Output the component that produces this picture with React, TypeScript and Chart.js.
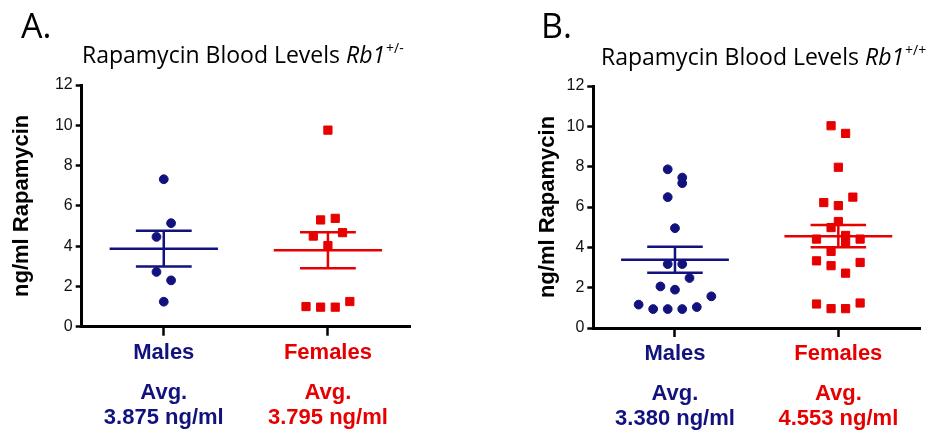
import React, { useEffect, useRef } from "react";
import { Chart, registerables } from "chart.js";

Chart.register(...registerables);

// ---------- data ----------
const categories = ["Males", "Females"];
const yTickValues = [0, 2, 4, 6, 8, 10, 12];

// Panel A: Rb1 +/-
const aMaleValues = [7.32, 5.14, 4.46, 2.72, 2.3, 1.24];
const aMaleSlots = [0, 1, -1, -1, 1, 0];
const aFemaleValues = [9.76, 5.3, 5.38, 4.5, 4.67, 4.03, 1.0, 0.97, 0.97, 1.25];
const aFemaleSlots = [0, -1, 1, -2, 2, 0, -3, -1, 1, 3];
const aAverages = [3.875, 3.795];
const aSems = [0.885, 0.89];

// Panel B: Rb1 +/+
const bMaleValues = [7.87, 7.46, 7.18, 6.49, 4.95, 3.17, 3.17, 2.48, 2.06, 1.9, 1.57, 1.16, 0.94, 0.94, 0.94, 1.04];
const bMaleSlots = [-1, 1, 1, -1, 0, -1, 1, 2, -2, 0, 5, -5, -3, -1, 1, 3];
const bFemaleValues = [10.03, 9.65, 7.97, 6.22, 6.49, 6.07, 5.28, 4.98, 4.59, 4.41, 4.41, 4.21, 3.8, 3.33, 3.09, 3.25, 2.72, 1.19, 0.96, 0.96, 1.24];
const bFemaleSlots = [-1, 1, 0, -2, 2, 0, 0, -1, 1, -3, 3, 1, -1, -3, -1, 3, 1, -3, -1, 1, 3];
const bAverages = [3.38, 4.553];
const bSems = [0.645, 0.555];

// ---------- styles ----------
const NAVY = "#12127e";
const RED = "#e60000";
const FAMILY = '"Liberation Sans", Arial, sans-serif';
const TITLE_FAMILY = '"Open Sans", "Noto Sans", sans-serif';
const JITTER = 0.0445;
const MEAN_HALF = 0.33;
const SEM_HALF = 0.17;
const W = 469;
const H = 435;

type PanelProps = {
  maleValues: number[];
  maleSlots: number[];
  femaleValues: number[];
  femaleSlots: number[];
  averages: number[];
  sems: number[];
  areaLeft: number;
  areaRight: number;
  areaTop: number;
  areaBottom: number;
  yTitleCenter: number;
};

function seg(x1: number, y1: number, x2: number, y2: number, color: string) {
  return {
    type: "scatter" as const,
    data: [
      { x: x1, y: y1 },
      { x: x2, y: y2 },
    ],
    showLine: true,
    borderColor: color,
    borderWidth: 2.5,
    pointRadius: 0,
    order: 0,
  };
}

function ChartPanel(p: PanelProps) {
  const ref = useRef<HTMLCanvasElement | null>(null);
  useEffect(() => {
    if (!ref.current) return;
    const colors = [NAVY, RED];
    const lines: any[] = [];
    p.averages.forEach((m, i) => {
      const c = i + 1;
      const s = p.sems[i];
      lines.push(seg(c - MEAN_HALF, m, c + MEAN_HALF, m, colors[i]));
      lines.push(seg(c - SEM_HALF, m + s, c + SEM_HALF, m + s, colors[i]));
      lines.push(seg(c - SEM_HALF, m - s, c + SEM_HALF, m - s, colors[i]));
      lines.push(seg(c, m - s, c, m + s, colors[i]));
    });
    const avgPlugin = {
      id: "avgText",
      afterDraw(chart: any) {
        const { ctx, chartArea, scales } = chart;
        ctx.save();
        ctx.font = `bold 22px ${FAMILY}`;
        ctx.textAlign = "center";
        ctx.textBaseline = "middle";
        p.averages.forEach((avg, i) => {
          const x = scales.x.getPixelForValue(i + 1);
          ctx.fillStyle = colors[i];
          ctx.fillText("Avg.", x, chartArea.bottom + 66);
          ctx.fillText(`${avg.toFixed(3)} ng/ml`, x, chartArea.bottom + 91);
        });
        ctx.restore();
      },
    };
    const titleFont = { family: FAMILY, size: 22, weight: "bold" as const, lineHeight: 1.2 };
    const chart = new Chart(ref.current, {
      type: "scatter",
      data: {
        datasets: [
          ...lines,
          {
            data: p.maleValues.map((v, i) => ({ x: 1 + p.maleSlots[i] * JITTER, y: v })),
            pointStyle: "circle",
            pointRadius: 4.4,
            pointBorderWidth: 1,
            backgroundColor: NAVY,
            borderColor: NAVY,
            order: 1,
          },
          {
            data: p.femaleValues.map((v, i) => ({ x: 2 + p.femaleSlots[i] * JITTER, y: v })),
            pointStyle: "rect",
            pointRadius: 5.8,
            pointBorderWidth: 1,
            backgroundColor: RED,
            borderColor: RED,
            order: 1,
          },
        ],
      },
      options: {
        animation: false,
        responsive: true,
        maintainAspectRatio: false,
        layout: { padding: { left: 0, right: W - p.areaRight, top: p.areaTop, bottom: 0 } },
        plugins: { legend: { display: false }, tooltip: { enabled: false } },
        events: [],
        scales: {
          x: {
            type: "linear",
            min: 0.5,
            max: 2.5,
            afterBuildTicks: (s: any) => {
              s.ticks = [{ value: 1 }, { value: 2 }];
            },
            afterFit: (s: any) => {
              s.height = H - p.areaBottom;
            },
            ticks: {
              autoSkip: false,
              maxRotation: 0,
              padding: 4,
              font: { family: FAMILY, size: 22, weight: "bold" },
              color: (ctx: any) => (ctx.index === 0 ? NAVY : RED),
              callback: (v: any) => categories[Math.round(Number(v)) - 1],
            },
            grid: {
              display: true,
              drawOnChartArea: false,
              drawTicks: true,
              tickLength: 9,
              tickWidth: 2.5,
              tickColor: "#000",
            },
            border: { display: true, color: "#000", width: 3 },
          },
          y: {
            type: "linear",
            min: 0,
            max: 12,
            afterBuildTicks: (s: any) => {
              s.ticks = yTickValues.map((v) => ({ value: v }));
            },
            afterFit: (s: any) => {
              s.width = p.areaLeft;
            },
            ticks: {
              padding: 3,
              font: { family: FAMILY, size: 16 },
              color: "#111",
            },
            grid: {
              display: true,
              drawOnChartArea: false,
              drawTicks: true,
              tickLength: 6,
              tickWidth: 2.5,
              tickColor: "#000",
            },
            border: { display: true, color: "#000", width: 3 },
            title: {
              display: true,
              text: "ng/ml Rapamycin",
              color: "#000",
              font: titleFont,
              padding: { top: p.yTitleCenter - (22 * 1.2) / 2, bottom: 0 },
            },
          },
        },
      },
      plugins: [avgPlugin],
    });
    return () => chart.destroy();
  }, []);
  return (
    <div style={{ position: "relative", width: W, height: H }}>
      <canvas ref={ref} />
    </div>
  );
}

function Heading(props: { letter: string; sup: string; letterLeft: number; titleLeft: number; titleTop: number }) {
  return (
    <>
      <div
        style={{
          position: "absolute",
          left: props.letterLeft,
          top: 8,
          fontFamily: TITLE_FAMILY,
          fontSize: 34,
          lineHeight: "34px",
          color: "#000",
          whiteSpace: "nowrap",
        }}
      >
        {props.letter}
      </div>
      <div
        style={{
          position: "absolute",
          left: props.titleLeft,
          top: props.titleTop,
          fontFamily: TITLE_FAMILY,
          fontSize: 23,
          lineHeight: "23px",
          color: "#000",
          whiteSpace: "nowrap",
        }}
      >
        Rapamycin Blood Levels <i>Rb1</i>
        <span style={{ fontSize: 14, position: "relative", top: -10, marginLeft: 1 }}>{props.sup}</span>
      </div>
    </>
  );
}

export default function App() {
  return (
    <div style={{ position: "absolute", left: 0, top: 0, width: 938, height: H, background: "#fff", overflow: "hidden" }}>
      <div style={{ position: "absolute", left: 0, top: 0 }}>
        <ChartPanel
          maleValues={aMaleValues}
          maleSlots={aMaleSlots}
          femaleValues={aFemaleValues}
          femaleSlots={aFemaleSlots}
          averages={aAverages}
          sems={aSems}
          areaLeft={81.7}
          areaRight={410}
          areaTop={85}
          areaBottom={326.7}
          yTitleCenter={22}
        />
      </div>
      <div style={{ position: "absolute", left: 469, top: 0 }}>
        <ChartPanel
          maleValues={bMaleValues}
          maleSlots={bMaleSlots}
          femaleValues={bFemaleValues}
          femaleSlots={bFemaleSlots}
          averages={bAverages}
          sems={bSems}
          areaLeft={124.3}
          areaRight={451}
          areaTop={86}
          areaBottom={328}
          yTitleCenter={79}
        />
      </div>
      <Heading letter="A." sup="+/-" letterLeft={21} titleLeft={82} titleTop={43} />
      <Heading letter="B." sup="+/+" letterLeft={541} titleLeft={601} titleTop={45} />
    </div>
  );
}
